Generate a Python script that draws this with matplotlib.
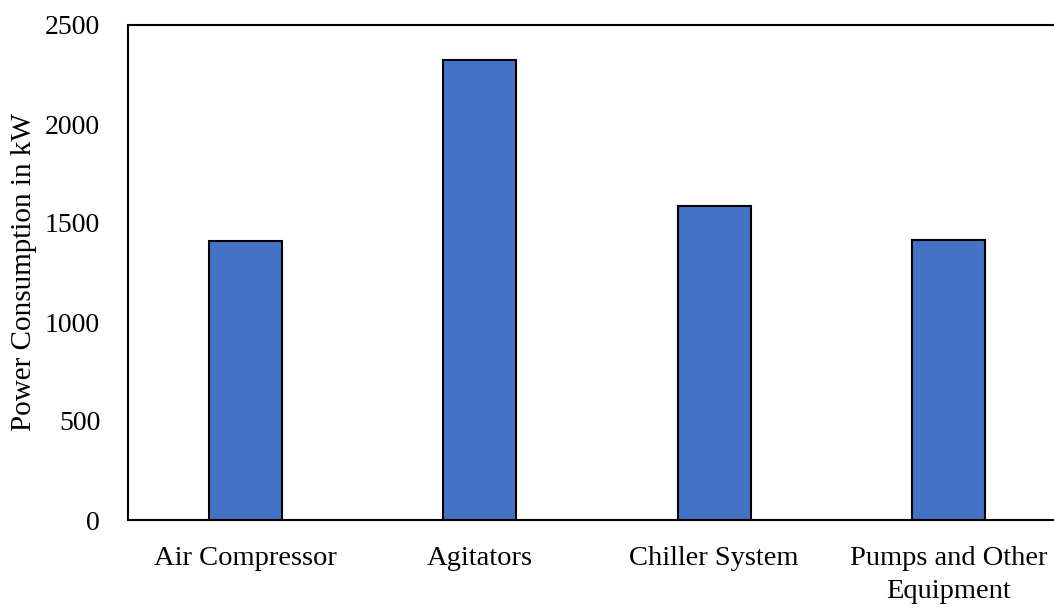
import numpy as np
import matplotlib.pyplot as plt

categories = ['Air Compressor', 'Agitators', 'Chiller System', 'Pumps and Other\nEquipment']
power_kw = [1408, 2323, 1586, 1412]
y_ticks = [0, 500, 1000, 1500, 2000, 2500]

plt.rcParams['font.family'] = ['Liberation Serif', 'DejaVu Serif']

fig = plt.figure(figsize=(10.54, 6.08), dpi=100)
ax = fig.add_axes([128 / 1054, 88 / 608, 938 / 1054, 495 / 608])

x = np.arange(len(categories))
ax.bar(x, power_kw, width=0.31, color='#4472C4', edgecolor='black', linewidth=1.5)

ax.set_xlim(-0.5, len(categories) - 0.5)
ax.set_ylim(0, 2500)
ax.set_yticks(y_ticks)
ax.set_yticklabels([str(t) for t in y_ticks], fontsize=20)
ax.set_xticks(x)
ax.set_xticklabels(categories, fontsize=20.5, linespacing=1.4)
ax.tick_params(axis='y', length=0, pad=20)
ax.tick_params(axis='x', length=0, pad=19)
ax.set_ylabel('Power Consumption in kW', fontsize=21, labelpad=6)

for side in ['left', 'bottom', 'top']:
    ax.spines[side].set_linewidth(1.5)
ax.spines['right'].set_visible(False)

fig.savefig('out.png', dpi=100)
